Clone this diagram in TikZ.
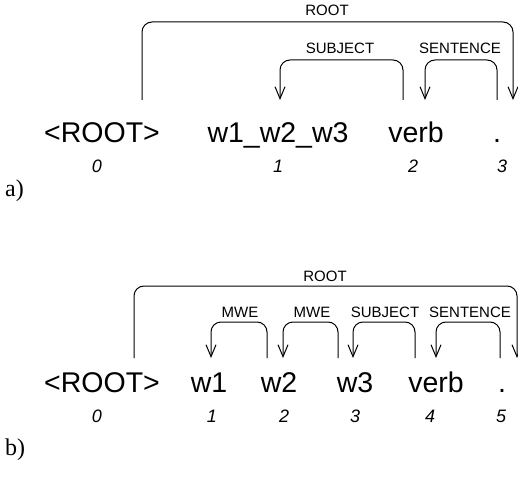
\documentclass[tikz,border=0pt]{standalone}
\usepackage{fontspec}
\setmainfont{Liberation Serif}
\setsansfont{Liberation Sans}
\usetikzlibrary{arrows.meta}
\begin{document}
\begin{tikzpicture}[x=1pt,y=-1pt,
  word/.style={font=\sffamily\fontsize{28.5}{28.5}\selectfont, anchor=base, inner sep=0pt},
  idx/.style={font=\sffamily\itshape\fontsize{18}{18}\selectfont, anchor=base, inner sep=0pt},
  rel/.style={font=\sffamily\fontsize{15}{15}\selectfont, inner sep=0pt},
  panel/.style={font=\fontsize{24}{24}\selectfont, anchor=base west, inner sep=0pt},
  arc/.style={line width=1pt, rounded corners=10pt},
  harc/.style={arc, -{Straight Barb[length=12pt,width=10pt]}}]
\useasboundingbox (0,0) rectangle (518,486);

% ---------------- a) ----------------
\node[word] (aw0) at (102,143) {<ROOT>};
\node[word] (aw1) at (278,143) {w1\_w2\_w3};
\node[word] (aw2) at (416,143) {verb};
\node[word] (aw3) at (497,143) {.};
\node[idx] (ai0) at (97,173) {0};
\node[idx] (ai1) at (278,173) {1};
\node[idx] (ai2) at (413,173) {2};
\node[idx] (ai3) at (502,173) {3};
\node[panel] (pa) at (5,196) {a)};

\coordinate (aRs) at (142,100);
\coordinate (aRt) at (513,100);
\coordinate (aSs) at (403,100);
\coordinate (aSt) at (280,100);
\coordinate (aEs) at (497,100);
\coordinate (aEt) at (425,100);

\draw[harc] (aRs) -- (aRs |- 0,22) -| (aRt);
\draw[harc] (aSs) -- (aSs |- 0,60) -| (aSt);
\draw[harc] (aEs) -- (aEs |- 0,60) -| (aEt);
\node[rel] (aRl) at (327,10) {ROOT};
\node[rel] (aSl) at (340,48) {SUBJECT};
\node[rel] (aEl) at (460,48) {SENTENCE};

% ---------------- b) ----------------
\node[word] (bw0) at (102,392) {<ROOT>};
\node[word] (bw1) at (209,392) {w1};
\node[word] (bw2) at (279,392) {w2};
\node[word] (bw3) at (355,392) {w3};
\node[word] (bw4) at (436,392) {verb};
\node[word] (bw5) at (502,392) {.};
\node[idx] (bi0) at (97,422) {0};
\node[idx] (bi1) at (212,422) {1};
\node[idx] (bi2) at (284,422) {2};
\node[idx] (bi3) at (355,422) {3};
\node[idx] (bi4) at (430,422) {4};
\node[idx] (bi5) at (501,422) {5};
\node[panel] (pb) at (5,455) {b)};

\coordinate (bRs) at (134,358);
\coordinate (bRt) at (517,358);
\coordinate (bM1s) at (267,358);
\coordinate (bM1t) at (211,358);
\coordinate (bM2s) at (338,358);
\coordinate (bM2t) at (283,358);
\coordinate (bSs) at (415,358);
\coordinate (bSt) at (353,358);
\coordinate (bEs) at (500,358);
\coordinate (bEt) at (436,358);

\draw[harc] (bRs) -- (bRs |- 0,286) -| (bRt);
\draw[harc] (bM1s) -- (bM1s |- 0,322) -| (bM1t);
\draw[harc] (bM2s) -- (bM2s |- 0,322) -| (bM2t);
\draw[harc] (bSs) -- (bSs |- 0,322) -| (bSt);
\draw[harc] (bEs) -- (bEs |- 0,322) -| (bEt);
\node[rel] (bRl) at (325,276) {ROOT};
\node[rel] (bM1l) at (240,312) {MWE};
\node[rel] (bM2l) at (312,312) {MWE};
\node[rel] (bSl) at (385,312) {SUBJECT};
\node[rel] (bEl) at (470,312) {SENTENCE};
\end{tikzpicture}
\end{document}
